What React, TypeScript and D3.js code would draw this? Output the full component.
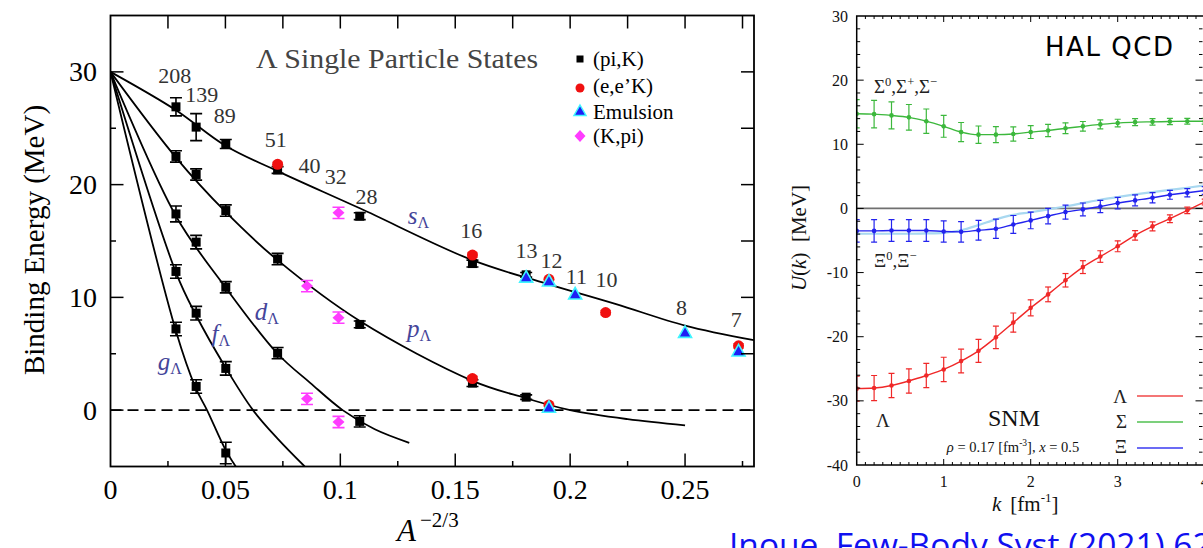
import React from "react";
import * as d3 from "d3";

// ---------- Left chart data (A, binding energy MeV, error MeV) ----------
const PIK: [number, number, number][] = [
  [208, 26.9, 0.8], [139, 25.1, 1.2], [89, 23.6, 0.4], [51, 21.3, 0.3], [28, 17.2, 0.3], [16, 13.0, 0.3], [13, 12.0, 0.2],
  [208, 22.5, 0.5], [139, 20.9, 0.5], [89, 17.7, 0.5], [51, 13.4, 0.5], [28, 7.6, 0.3], [16, 2.4, 0.3], [13, 1.15, 0.2],
  [208, 17.4, 0.7], [139, 14.9, 0.6], [89, 10.9, 0.5], [51, 5.05, 0.5], [28, -1.0, 0.5],
  [208, 12.3, 0.6], [139, 8.6, 0.6], [89, 3.7, 0.6],
  [208, 7.2, 0.6], [139, 2.1, 0.6], [89, -3.8, 0.95],
];
const EEK: [number, number, number][] = [
  [51, 21.8, 0.2], [16, 13.75, 0.2], [12, 11.6, 0.1], [10, 8.65, 0.2], [7, 5.7, 0.2], [16, 2.8, 0.2], [12, 0.45, 0.1],
];
const EMULSION: [number, number][] = [
  [13, 11.8], [12, 11.45], [11, 10.3], [8, 6.9], [7, 5.25], [12, 0.25],
];
const KPI: [number, number, number][] = [
  [32, 17.5, 0.5], [40, 11.0, 0.5], [32, 8.2, 0.5], [40, 1.0, 0.5], [32, -1.05, 0.5],
];

// fit curves: [A^-2/3, MeV]
const S_CURVE: [number, number][] = [[0, 30], [0.0285, 26.6], [0.05, 23.45], [0.0727, 21.2], [0.1085, 17.9], [0.1575, 13.3], [0.19, 11.2], [0.22, 9.4], [0.25, 7.5], [0.28, 6.2]];
const P_CURVE: [number, number][] = [[0, 30], [0.0285, 22.4], [0.05, 17.6], [0.0727, 13.3], [0.1085, 7.9], [0.1575, 2.6], [0.18, 1.1], [0.2, 0.0], [0.225, -0.8], [0.25, -1.35]];
const D_CURVE: [number, number][] = [[0, 30], [0.0285, 17.2], [0.05, 10.9], [0.0727, 5.0], [0.087, 2.4], [0.101, 0.0], [0.115, -1.7], [0.13, -2.9]];
const F_CURVE: [number, number][] = [[0, 30], [0.0285, 12.2], [0.037, 8.5], [0.05, 3.8], [0.062, 0.0], [0.073, -2.6], [0.0845, -5]];
const G_CURVE: [number, number][] = [[0, 30], [0.0285, 7.0], [0.037, 2.0], [0.042, 0.0], [0.05, -3.5], [0.0545, -5]];

// mass number labels: [text, A^-2/3 centre, MeV baseline]
const A_LABELS: [string, number, number][] = [
  ["208", 0.028, 29.0], ["139", 0.0397, 27.3], ["89", 0.0497, 25.5], ["51", 0.0719, 23.3], ["40", 0.0866, 21.0],
  ["32", 0.098, 20.05], ["28", 0.1114, 18.3], ["16", 0.157, 15.3], ["13", 0.181, 13.5], ["12", 0.1919, 12.6],
  ["11", 0.2027, 11.2], ["10", 0.2158, 10.9], ["8", 0.2484, 8.4], ["7", 0.2723, 7.4],
];
const ORBIT_LABELS: [string, number, number][] = [
  ["s", 0.1293, 16.5], ["p", 0.129, 6.5], ["d", 0.0628, 8.0], ["f", 0.044, 6.0], ["g", 0.0206, 3.55],
];
const L_X_LABELS = ["0", "0.05", "0.1", "0.15", "0.2", "0.25"];
const L_X_LABEL_VALUES = [0, 0.05, 0.1, 0.15, 0.2, 0.25];
const L_Y_LABEL_VALUES = [0, 10, 20, 30];
const LEGEND_L = ["(pi,K)", "(e,e\u2019K)", "Emulsion", "(K,pi)"];

// ---------- Right chart data ----------
const K_VALUES = [0, 0.2, 0.4, 0.6, 0.8, 1.0, 1.2, 1.4, 1.6, 1.8, 2.0, 2.2, 2.4, 2.6, 2.8, 3.0, 3.2, 3.4, 3.6, 3.8, 4.0];
const LAMBDA_U = [-28.1, -28.0, -27.6, -26.9, -26.05, -25.1, -23.8, -22.2, -20.1, -17.8, -15.5, -13.4, -11.2, -9.15, -7.5, -5.9, -4.2, -2.8, -1.6, -0.3, 1.0];
const LAMBDA_ERR = [1.95, 1.95, 1.9, 1.9, 1.9, 1.9, 1.85, 1.8, 1.75, 1.5, 1.25, 1.15, 1.05, 1.0, 0.9, 0.85, 0.75, 0.7, 0.6, 0.5, 0.45];
const SIGMA_U = [14.75, 14.7, 14.5, 14.2, 13.6, 12.8, 11.9, 11.5, 11.5, 11.6, 11.9, 12.15, 12.5, 12.8, 13.1, 13.3, 13.45, 13.5, 13.55, 13.6, 13.6];
const SIGMA_ERR = [2.2, 2.15, 2.1, 2.0, 1.9, 1.7, 1.5, 1.35, 1.25, 1.1, 1.0, 0.95, 0.85, 0.75, 0.7, 0.6, 0.55, 0.5, 0.5, 0.45, 0.45];
const XI_U = [-3.5, -3.5, -3.45, -3.45, -3.45, -3.6, -3.65, -3.4, -3.17, -2.5, -1.87, -1.2, -0.57, -0.15, 0.3, 0.83, 1.25, 1.66, 2.13, 2.44, 2.8];
const XI_ERR = [1.75, 1.75, 1.7, 1.7, 1.7, 1.65, 1.6, 1.55, 1.5, 1.4, 1.3, 1.2, 1.1, 1.0, 0.95, 0.9, 0.85, 0.8, 0.7, 0.65, 0.6];
const XI_BAND = [-3.95, -3.95, -3.95, -3.95, -3.9, -3.8, -3.4, -2.6, -1.7, -1.0, -0.6, -0.15, 0.3, 0.83, 1.35, 1.77, 2.18, 2.54, 2.9, 3.22, 3.58];
const R_Y_LABELS = ["30", "20", "10", "0", "-10", "-20", "-30", "-40"];
const R_Y_LABEL_VALUES = [30, 20, 10, 0, -10, -20, -30, -40];
const R_X_LABELS = ["0", "1", "2", "3", "4"];
const R_X_LABEL_VALUES = [0, 1, 2, 3, 4];

const SERIF = "'Liberation Serif', 'Times New Roman', serif";
const ORBIT_COLOR = "#45459a";
const RED = "#f01010";
const MAGENTA = "#ff3cff";

const aX = (A: number) => Math.pow(A, -2 / 3);

export default function App() {
  // left scales
  const xL = d3.scaleLinear().domain([0, 0.28]).range([110.5, 754]);
  const yL = d3.scaleLinear().domain([-5, 35]).range([466.5, 15.5]);
  const fit = d3.line<[number, number]>().x((d) => xL(d[0])).y((d) => yL(d[1])).curve(d3.curveCatmullRom.alpha(0.5));

  // right scales
  const xR = d3.scaleLinear().domain([0, 4]).range([856.7, 1204.7]);
  const yR = d3.scaleLinear().domain([-40, 30]).range([465, 16]);
  const rLine = (vals: number[]) =>
    d3.line<number>().x((_, i) => xR(K_VALUES[i])).y((d) => yR(d)).curve(d3.curveMonotoneX)(vals) || "";

  const errBar = (cx: number, y0: number, y1: number, color: string, cap: number, w: number, key: string) => (
    <g key={key} stroke={color} strokeWidth={w}>
      <line x1={cx} x2={cx} y1={y0} y2={y1} />
      <line x1={cx - cap} x2={cx + cap} y1={y0} y2={y0} />
      <line x1={cx - cap} x2={cx + cap} y1={y1} y2={y1} />
    </g>
  );

  const leftTopTicks = d3.range(1, 12).map((i) => i * 0.025);
  const leftBottomTicks = d3.range(1, 12).map((i) => i * 0.025);
  const leftYTicks = [0, 5, 10, 15, 20, 25, 30];
  const rightYTicks = d3.range(-38, 30, 2);
  const rightXTicks = d3.range(1, 40).map((i) => i / 10);

  const tri = (cx: number, cy: number) => `M${cx},${cy - 6.5} L${cx + 6.5},${cy + 5} L${cx - 6.5},${cy + 5} Z`;
  const dia = (cx: number, cy: number) => `M${cx},${cy - 5.5} L${cx + 6},${cy} L${cx},${cy + 5.5} L${cx - 6},${cy} Z`;

  const series = [
    { u: SIGMA_U, e: SIGMA_ERR, c: "#3cb83c", n: "s" },
    { u: XI_U, e: XI_ERR, c: "#2323ee", n: "x" },
    { u: LAMBDA_U, e: LAMBDA_ERR, c: "#f02828", n: "l" },
  ];

  return (
    <svg width={1203} height={548} style={{ position: "absolute", left: 0, top: 0, background: "#fff" }} fontFamily={SERIF}>
      <defs>
        <clipPath id="clipL">
          <rect x={110.5} y={15.5} width={643.5} height={451} />
        </clipPath>
        <clipPath id="clipR">
          <rect x={856.7} y={16} width={348} height={449} />
        </clipPath>
      </defs>
      <rect x={0} y={0} width={1203} height={548} fill="#fff" />

      {/* ================= LEFT CHART ================= */}
      <g clipPath="url(#clipL)">
        <line x1={xL(0)} x2={xL(0.28)} y1={yL(0)} y2={yL(0)} stroke="#000" strokeWidth={1.6} strokeDasharray="11,6" />
        {[S_CURVE, P_CURVE, D_CURVE, F_CURVE, G_CURVE].map((c, i) => (
          <path key={i} d={fit(c) || ""} fill="none" stroke="#000" strokeWidth={1.8} />
        ))}
        {PIK.map((p, i) => {
          const cx = xL(aX(p[0]));
          return (
            <g key={"pk" + i}>
              {errBar(cx, yL(p[1] + p[2]), yL(p[1] - p[2]), "#000", 6, 1.6, "e")}
              <rect x={cx - 4.5} y={yL(p[1]) - 4.5} width={9} height={9} fill="#000" />
            </g>
          );
        })}
        {EEK.map((p, i) => {
          const cx = xL(aX(p[0]));
          return (
            <g key={"ek" + i}>
              {errBar(cx, yL(p[1] + p[2]), yL(p[1] - p[2]), RED, 5, 1.4, "e")}
              <circle cx={cx} cy={yL(p[1])} r={5.5} fill={RED} />
            </g>
          );
        })}
        {EMULSION.map((p, i) => (
          <path key={"em" + i} d={tri(xL(aX(p[0])), yL(p[1]))} fill="#1e1ef5" stroke="#3ff5ff" strokeWidth={1.6} />
        ))}
        {KPI.map((p, i) => {
          const cx = xL(aX(p[0]));
          return (
            <g key={"kp" + i}>
              {errBar(cx, yL(p[1] + p[2]), yL(p[1] - p[2]), MAGENTA, 6, 1.6, "e")}
              <path d={dia(cx, yL(p[1]))} fill={MAGENTA} />
            </g>
          );
        })}
      </g>

      {/* frame + ticks */}
      <rect x={110.5} y={15.5} width={643.5} height={451} fill="none" stroke="#000" strokeWidth={1.8} />
      {leftTopTicks.map((t) => (
        <line key={"tt" + t} x1={xL(t)} x2={xL(t)} y1={15.5} y2={28.5} stroke="#000" strokeWidth={1.5} />
      ))}
      {leftBottomTicks.map((t, i) => (
        <line key={"bt" + t} x1={xL(t)} x2={xL(t)} y1={466.5} y2={466.5 - (i % 2 === 1 ? 13 : 5.5)} stroke="#000" strokeWidth={1.5} />
      ))}
      {leftYTicks.map((t) => (
        <g key={"yt" + t}>
          <line x1={110.5} x2={110.5 + (t % 10 === 0 ? 13 : 5.5)} y1={yL(t)} y2={yL(t)} stroke="#000" strokeWidth={1.5} />
          <line x1={754} x2={741} y1={yL(t)} y2={yL(t)} stroke="#000" strokeWidth={1.5} />
        </g>
      ))}
      {L_X_LABEL_VALUES.map((v, i) => (
        <text key={"xl" + i} x={xL(v)} y={499} fontSize={28} textAnchor="middle" fill="#000">
          {L_X_LABELS[i]}
        </text>
      ))}
      {L_Y_LABEL_VALUES.map((v) => (
        <text key={"yl" + v} x={97} y={yL(v) + 9.5} fontSize={28} textAnchor="end" fill="#000">
          {String(v)}
        </text>
      ))}
      <text transform="translate(44,240) rotate(-90)" fontSize={29} textAnchor="middle" fill="#000">
        Binding Energy (MeV)
      </text>
      <text x={397} y={541} fontSize={31} fontStyle="italic" fill="#000">
        A
      </text>
      <text x={420} y={527} fontSize={21} fill="#000">
        {"\u22122/3"}
      </text>

      <text x={256} y={68} fontSize={27} fill="#444" textLength={282} lengthAdjust="spacingAndGlyphs">
        {"\u039B Single Particle States"}
      </text>

      {/* legend */}
      <rect x={576.5} y={55.5} width={7} height={7} fill="#000" />
      <circle cx={580} cy={88} r={4.5} fill={RED} />
      <path d={`M580,105 L586,115.5 L574,115.5 Z`} fill="#1e1ef5" stroke="#3ff5ff" strokeWidth={1.5} />
      <path d={`M580,130 L585.5,136 L580,142 L574.5,136 Z`} fill={MAGENTA} />
      {LEGEND_L.map((t, i) => (
        <text key={"lg" + i} x={593} y={[66, 93, 119, 143][i]} fontSize={21} fill="#000">
          {t}
        </text>
      ))}

      {A_LABELS.map((l, i) => (
        <text key={"al" + i} x={xL(l[1])} y={yL(l[2])} fontSize={22} textAnchor="middle" fill="#333">
          {l[0]}
        </text>
      ))}
      {ORBIT_LABELS.map((l, i) => (
        <text key={"ol" + i} x={xL(l[1])} y={yL(l[2])} fontSize={25} fontStyle="italic" fill={ORBIT_COLOR}>
          {l[0]}
          <tspan fontSize={16} fontStyle="normal" dy={4}>
            {"\u039B"}
          </tspan>
        </text>
      ))}

      {/* ================= RIGHT CHART ================= */}
      <line x1={856.7} x2={1205} y1={yR(0)} y2={yR(0)} stroke="#707070" strokeWidth={1.8} />
      <g clipPath="url(#clipR)">
        <path d={rLine(XI_BAND)} fill="none" stroke="#a8d8f0" strokeWidth={2.2} />
        {series.map((s) => (
          <g key={s.n}>
            <path d={rLine(s.u)} fill="none" stroke={s.c} strokeWidth={1.4} />
            {s.u.map((u, i) => {
              const cx = xR(K_VALUES[i]);
              return (
                <g key={i}>
                  {errBar(cx, yR(u + s.e[i]), yR(u - s.e[i]), s.c, 3, 1.2, "e")}
                  <circle cx={cx} cy={yR(u)} r={2.3} fill={s.c} />
                </g>
              );
            })}
          </g>
        ))}
      </g>
      <rect x={856.7} y={16} width={360} height={449} fill="none" stroke="#000" strokeWidth={1.5} />
      {rightYTicks.map((t) => (
        <g key={"ryt" + t}>
          <line x1={856.7} x2={856.7 + (t % 10 === 0 ? 7 : 3.5)} y1={yR(t)} y2={yR(t)} stroke="#000" strokeWidth={1} />
          <line x1={1202.5} x2={1202.5 - (t % 10 === 0 ? 7 : 3.5)} y1={yR(t)} y2={yR(t)} stroke="#000" strokeWidth={1} />
        </g>
      ))}
      {rightXTicks.map((t) => (
        <g key={"rxt" + t}>
          <line x1={xR(t)} x2={xR(t)} y1={465} y2={465 - (Math.abs(t - Math.round(t)) < 1e-6 ? 6 : 3)} stroke="#000" strokeWidth={1} />
          <line x1={xR(t)} x2={xR(t)} y1={16} y2={16 + (Math.abs(t - Math.round(t)) < 1e-6 ? 6 : 3)} stroke="#000" strokeWidth={1} />
        </g>
      ))}
      {R_Y_LABEL_VALUES.map((v, i) => (
        <text key={"ryl" + i} x={848} y={yR(v) + 5.5} fontSize={16} textAnchor="end" fill="#111">
          {R_Y_LABELS[i]}
        </text>
      ))}
      {R_X_LABEL_VALUES.map((v, i) => (
        <text key={"rxl" + i} x={xR(v)} y={487} fontSize={16} textAnchor="middle" fill="#111">
          {R_X_LABELS[i]}
        </text>
      ))}
      <text transform="translate(806,238) rotate(-90)" fontSize={21} textAnchor="middle" fill="#111">
        <tspan fontStyle="italic">U</tspan>(<tspan fontStyle="italic">k</tspan>){"\u00A0\u00A0"}[MeV]
      </text>
      <text x={992} y={511} fontSize={21} fill="#111">
        <tspan fontStyle="italic">k</tspan>
        <tspan dx={9}>[fm</tspan>
        <tspan fontSize={13} dy={-9}>-1</tspan>
        <tspan dy={9}>]</tspan>
      </text>

      <text x={1045} y={56} fontSize={26} fontFamily="'DejaVu Sans', sans-serif" fill="#000" textLength={128}>
        HAL QCD
      </text>
      <text x={874} y={93} fontSize={19} fill="#222">
        {"\u03A3"}
        <tspan fontSize={12.5} dy={-7}>0</tspan>
        <tspan dy={7}>{",\u03A3"}</tspan>
        <tspan fontSize={12.5} dy={-7}>+</tspan>
        <tspan dy={7}>{",\u03A3"}</tspan>
        <tspan fontSize={12.5} dy={-7}>{"\u2212"}</tspan>
      </text>
      <text x={874} y={267} fontSize={19} fill="#222">
        {"\u039E"}
        <tspan fontSize={12.5} dy={-7}>0</tspan>
        <tspan dy={7}>{",\u039E"}</tspan>
        <tspan fontSize={12.5} dy={-7}>{"\u2212"}</tspan>
      </text>
      <text x={883} y={427} fontSize={19} textAnchor="middle" fill="#222">
        {"\u039B"}
      </text>
      <text x={1014} y={426} fontSize={24} textAnchor="middle" fill="#111">
        SNM
      </text>
      <text x={1013} y={452} fontSize={14.5} textAnchor="middle" fill="#111">
        <tspan fontStyle="italic">{"\u03C1"}</tspan>
        {" = 0.17 [fm"}
        <tspan fontSize={9.5} dy={-6}>-3</tspan>
        <tspan dy={6}>{"], "}</tspan>
        <tspan fontStyle="italic">x</tspan>
        {" = 0.5"}
      </text>
      {[
        ["\u039B", "#f04848", 403, 396],
        ["\u03A3", "#50c050", 428, 422],
        ["\u039E", "#3a3af0", 453, 448],
      ].map((r, i) => (
        <g key={"rl" + i}>
          <text x={1127} y={r[2] as number} fontSize={19} textAnchor="end" fill="#222">
            {r[0] as string}
          </text>
          <line x1={1137} x2={1183} y1={r[3] as number} y2={r[3] as number} stroke={r[1] as string} strokeWidth={1.6} />
        </g>
      ))}

      {/* citation */}
      <text x={729} y={557} fontSize={33.5} fontFamily="'Open Sans', sans-serif" fill="#1010f0">
        Inoue, Few-Body Syst (2021) 62:106
      </text>
    </svg>
  );
}
